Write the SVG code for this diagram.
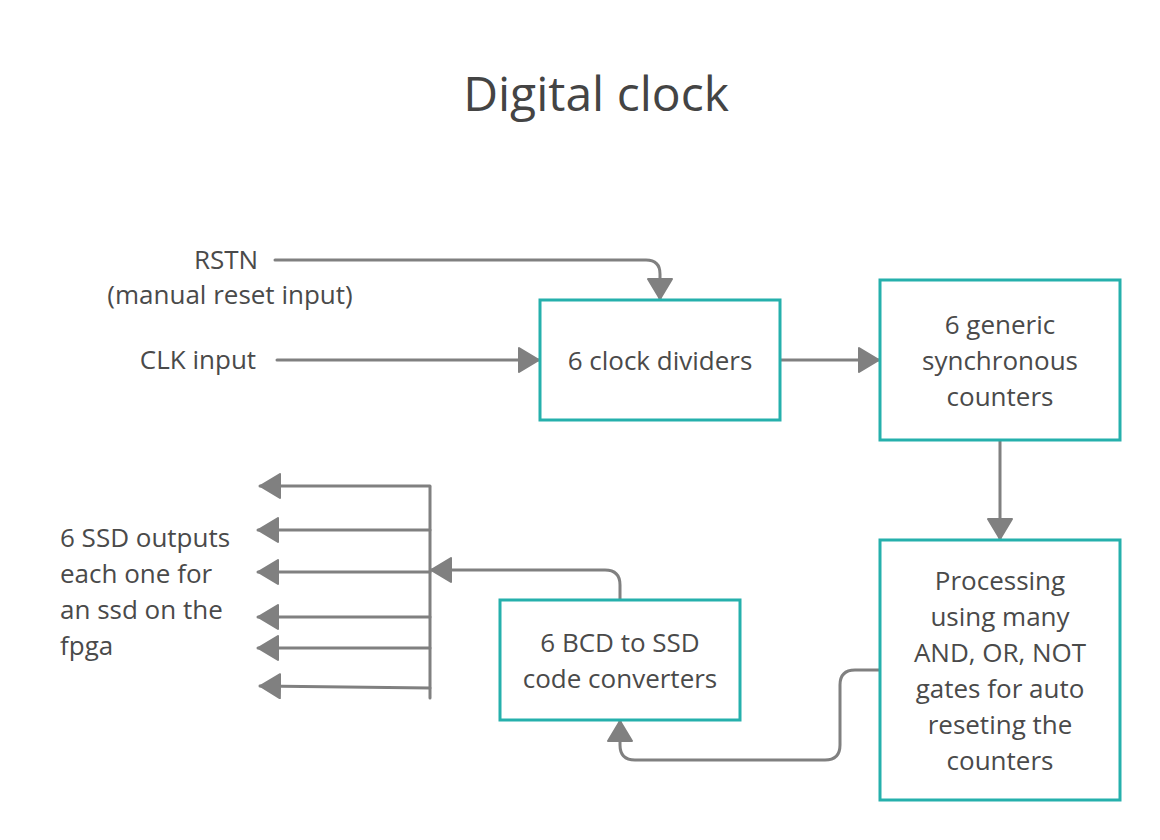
<svg xmlns="http://www.w3.org/2000/svg" width="1160" height="840" viewBox="0 0 1160 840">
<defs>
<style>
.box{fill:#fff;stroke:#25b0ac;stroke-width:3}
.t{font-family:"Open Sans","Noto Sans","Liberation Sans",sans-serif;font-size:26px;fill:#4a4a4a}
.c{text-anchor:middle}
.title{font-family:"Open Sans","Noto Sans","Liberation Sans",sans-serif;font-size:48px;fill:#444;text-anchor:middle}
.ln{fill:none;stroke:#808080;stroke-width:3;stroke-linecap:round;stroke-linejoin:round}
.arr{marker-end:url(#ah)}
</style>
<marker id="ah" markerUnits="userSpaceOnUse" viewBox="0 0 22 26" markerWidth="22" markerHeight="26" refX="21" refY="13" orient="auto">
<path d="M1,1 L21,13 L1,25 Z" fill="#808080" stroke="#808080" stroke-width="2" stroke-linejoin="round"/>
</marker>
</defs>
<rect width="1160" height="840" fill="#fff"/>
<text class="title" x="596" y="111">Digital clock</text>
<g id="labels">
<text class="t c" x="226" y="269">RSTN</text>
<text class="t c" x="230" y="304">(manual reset input)</text>
<text class="t c" x="198" y="369">CLK input</text>
<text class="t" x="60" y="547">6 SSD outputs</text>
<text class="t" x="60" y="583">each one for</text>
<text class="t" x="60" y="619">an ssd on the</text>
<text class="t" x="60" y="655">fpga</text>
</g>
<g id="connectors">
<path class="ln arr" d="M275,260 H646 Q660,260 660,274 V299"/>
<path class="ln arr" d="M277,360 H539"/>
<path class="ln arr" d="M780,360 H879"/>
<path class="ln arr" d="M1000,440 V539"/>
<path class="ln arr" d="M880,670 H855 Q840,670 840,685 V745 Q840,760 825,760 H635 Q620,760 620,745 V721"/>
<path class="ln arr" d="M620,600 V585 Q620,570 605,570 H431"/>
<path class="ln" d="M430,487 V698"/>
<path class="ln arr" d="M430,486 H260"/>
<path class="ln arr" d="M430,530 H258"/>
<path class="ln arr" d="M430,572 H258"/>
<path class="ln arr" d="M430,617 H258"/>
<path class="ln arr" d="M430,648 H258"/>
<path class="ln arr" d="M430,688 L260,686"/>
</g>
<g id="clock-dividers">
<rect class="box" x="540" y="300" width="240" height="120"/>
<text class="t c" x="660" y="370">6 clock dividers</text>
</g>
<g id="counters">
<rect class="box" x="880" y="280" width="240" height="160"/>
<text class="t c" x="1000" y="334">6 generic</text>
<text class="t c" x="1000" y="370">synchronous</text>
<text class="t c" x="1000" y="406">counters</text>
</g>
<g id="processing">
<rect class="box" x="880" y="540" width="240" height="260"/>
<text class="t c" x="1000" y="590">Processing</text>
<text class="t c" x="1000" y="626">using many</text>
<text class="t c" x="1000" y="662">AND, OR, NOT</text>
<text class="t c" x="1000" y="698">gates for auto</text>
<text class="t c" x="1000" y="734">reseting the</text>
<text class="t c" x="1000" y="770">counters</text>
</g>
<g id="bcd-converters">
<rect class="box" x="500" y="600" width="240" height="120"/>
<text class="t c" x="620" y="652">6 BCD to SSD</text>
<text class="t c" x="620" y="688">code converters</text>
</g>
</svg>
